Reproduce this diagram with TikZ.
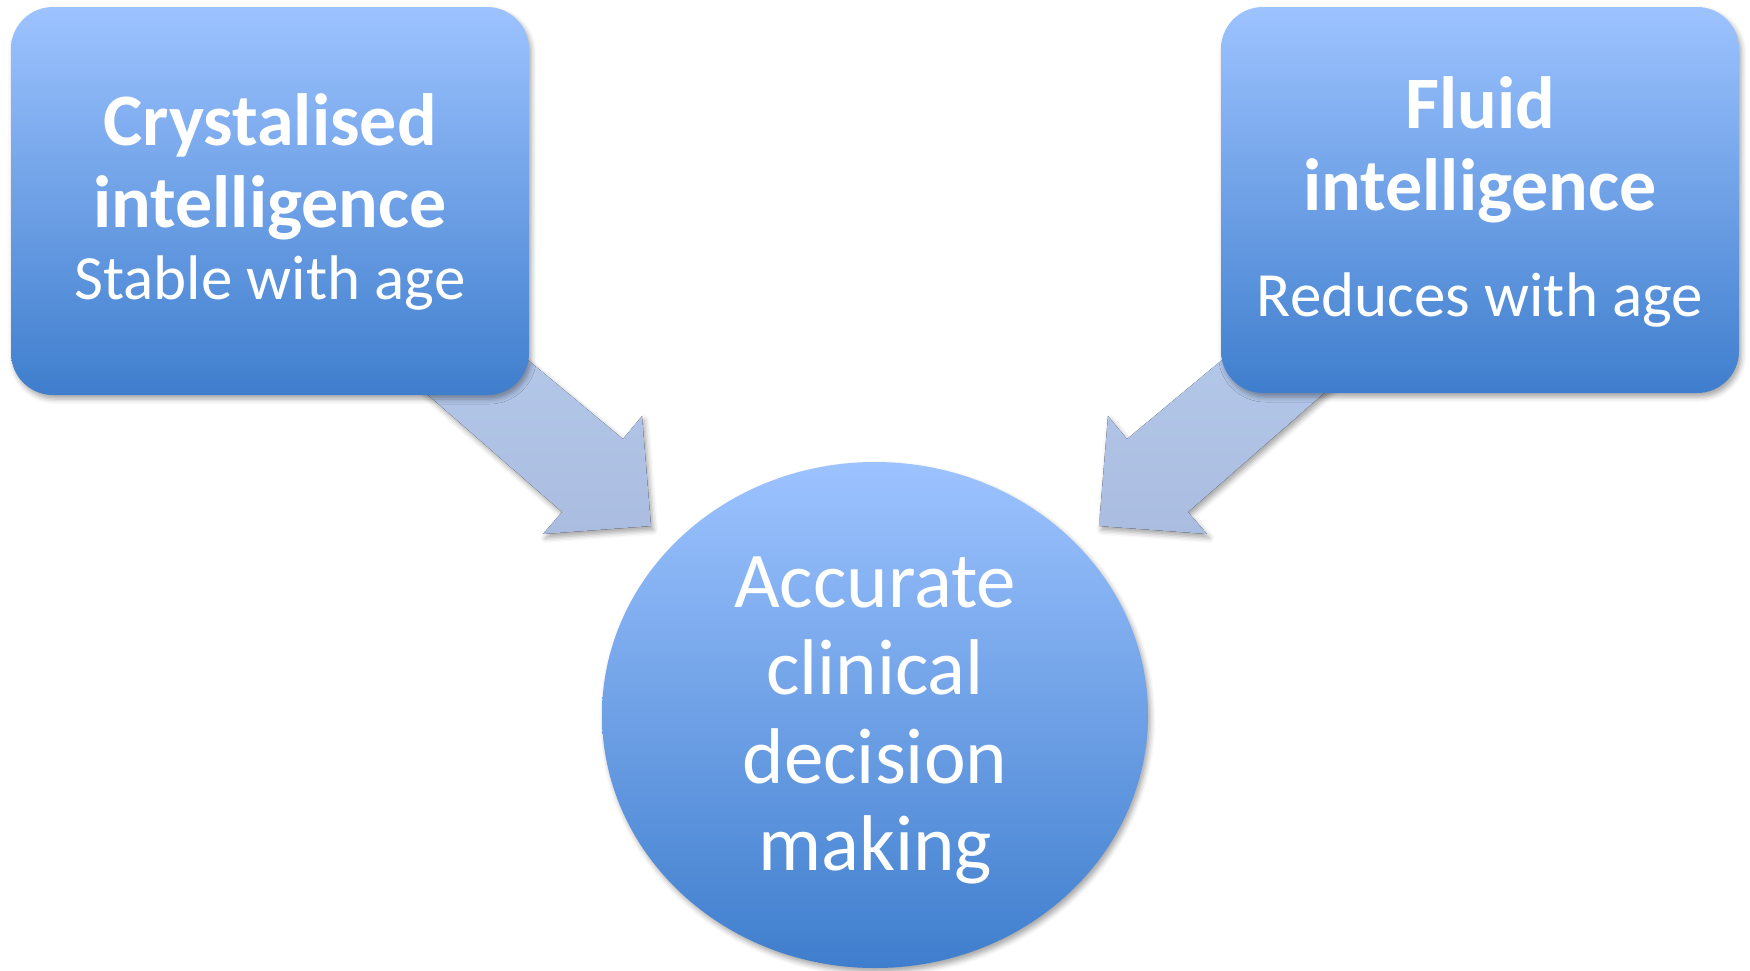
\documentclass[tikz,border=0pt]{standalone}
\usepackage{fontspec}
\setmainfont{Carlito}
\usetikzlibrary{shapes.geometric,shadows.blur}
\definecolor{topblue}{HTML}{9DC3FF}
\definecolor{botblue}{HTML}{3F7ECD}
\definecolor{arrowtop}{HTML}{B5C9EB}
\definecolor{arrowbot}{HTML}{AABDE0}
\tikzset{
  softshadow/.style={blur shadow={shadow xshift=1.2pt, shadow yshift=-2pt, shadow blur radius=2.5pt, shadow opacity=35}},
  infobox/.style={rectangle, rounded corners=21pt, inner sep=0pt, minimum width=259pt,
    top color=topblue, bottom color=botblue, draw=none, softshadow},
  goal/.style={ellipse, inner sep=0pt, minimum width=273pt, minimum height=253pt,
    top color=topblue, bottom color=botblue, draw=none, softshadow},
  fatarrow/.style={top color=arrowtop, bottom color=arrowbot, draw=none, softshadow},
  titletext/.style={text=white, anchor=base, font=\bfseries\fontsize{37pt}{41pt}\selectfont, inner sep=0pt},
  subtext/.style={text=white, anchor=base, font=\fontsize{31.5pt}{36pt}\selectfont, inner sep=0pt},
  goaltext/.style={text=white, anchor=base, font=\fontsize{39.5pt}{44pt}\selectfont, inner sep=0pt},
}
\begin{document}
\begin{tikzpicture}[x=0.5pt, y=-0.5pt]
\useasboundingbox (0,0) rectangle (1750,970);
% arrows (under the boxes)
\coordinate (la1) at (480,320);
\coordinate (la2) at (623,439);
\coordinate (la3) at (642,416);
\coordinate (la4) at (651,526);
\coordinate (la5) at (543,534);
\coordinate (la6) at (562,512);
\coordinate (la7) at (380,353);
\fill[fatarrow] (la1) -- (la2) -- (la3) -- (la4) -- (la5) -- (la6) -- (la7) -- cycle;
\coordinate (ra1) at (1270,320);
\coordinate (ra2) at (1127,439);
\coordinate (ra3) at (1108,416);
\coordinate (ra4) at (1099,526);
\coordinate (ra5) at (1207,534);
\coordinate (ra6) at (1188,512);
\coordinate (ra7) at (1370,353);
\fill[fatarrow] (ra1) -- (ra2) -- (ra3) -- (ra4) -- (ra5) -- (ra6) -- (ra7) -- cycle;
% boxes
\node[infobox, minimum height=194pt] (crys) at (270,201) {};
\node[infobox, minimum height=193pt] (fluid) at (1480,200) {};
\node[goal] (acc) at (875,715) {};
% texts
\node[titletext] (c1) at (270,145) {Crystalised};
\node[titletext] (c2) at (270,227) {intelligence};
\node[subtext] (c3) at (270,299) {Stable with age};
\node[titletext] (f1) at (1480,128) {Fluid};
\node[titletext] (f2) at (1480,210) {intelligence};
\node[subtext] (f3) at (1480,316) {Reduces with age};
\node[goaltext] (a1) at (875,607) {Accurate};
\node[goaltext] (a2) at (875,694) {clinical};
\node[goaltext] (a3) at (875,783) {decision};
\node[goaltext] (a4) at (875,870) {making};
\end{tikzpicture}
\end{document}
